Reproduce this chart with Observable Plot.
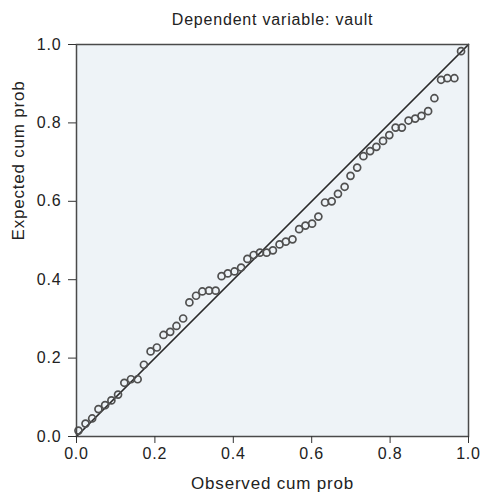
<!DOCTYPE html>
<html><head><meta charset="utf-8">
<script src="https://cdn.jsdelivr.net/npm/d3@7"></script>
<script src="https://cdn.jsdelivr.net/npm/@observablehq/plot@0.6"></script>
<style>body{margin:0;background:#fff;font-family:"Liberation Sans",Arial,sans-serif}</style>
</head><body><div id="chart"></div>
<script>
const title = "Dependent variable: vault";
const xLabel = "Observed cum prob";
const yLabel = "Expected cum prob";
const tickValues = [0, 0.2, 0.4, 0.6, 0.8, 1.0];
const diagonal = [0, 1];
const observed = [0.005, 0.023, 0.040, 0.056, 0.073, 0.089, 0.106, 0.122, 0.139, 0.156,
  0.172, 0.189, 0.205, 0.222, 0.239, 0.255, 0.272, 0.288, 0.305, 0.321,
  0.338, 0.355, 0.370, 0.386, 0.403, 0.420, 0.436, 0.452, 0.468, 0.485,
  0.501, 0.518, 0.534, 0.551, 0.568, 0.584, 0.601, 0.617, 0.634, 0.651,
  0.667, 0.684, 0.699, 0.716, 0.732, 0.749, 0.765, 0.782, 0.798, 0.814,
  0.830, 0.847, 0.864, 0.880, 0.897, 0.913, 0.930, 0.946, 0.964, 0.981];
const expected = [0.015, 0.033, 0.046, 0.070, 0.080, 0.092, 0.107, 0.137, 0.146, 0.146,
  0.183, 0.217, 0.227, 0.259, 0.267, 0.282, 0.301, 0.342, 0.359, 0.370,
  0.372, 0.372, 0.409, 0.416, 0.421, 0.431, 0.453, 0.463, 0.469, 0.469,
  0.475, 0.490, 0.497, 0.503, 0.529, 0.538, 0.543, 0.561, 0.597, 0.600,
  0.619, 0.637, 0.665, 0.686, 0.715, 0.728, 0.739, 0.754, 0.769, 0.788,
  0.788, 0.806, 0.811, 0.818, 0.830, 0.863, 0.910, 0.914, 0.914, 0.983];

const points = observed.map((x, i) => ({x, y: expected[i]}));
const diag = diagonal.map(d => ({x: d, y: d}));
const fmt = d3.format(".1f");

const chart = Plot.plot({
  width: 482, height: 494,
  marginLeft: 76, marginRight: 14, marginTop: 44, marginBottom: 58,
  style: {fontFamily: "'Liberation Sans', Arial, sans-serif", fontSize: "16px", color: "#222", background: "#fff", letterSpacing: "0.8px"},
  x: {domain: [0, 1]},
  y: {domain: [0, 1]},
  marks: [
    Plot.frame({fill: "#eef3f7"}),
    Plot.line(diag, {x: "x", y: "y", stroke: "#2a2a2a", strokeWidth: 1.7}),
    Plot.dot(points, {x: "x", y: "y", r: 3.5, stroke: "#505050", strokeWidth: 1.7, fill: "none"}),
    Plot.frame({stroke: "#4a4a4a", strokeWidth: 1.5}),
    Plot.axisX({ticks: tickValues, tickFormat: fmt, tickSize: 7, tickPadding: 4, label: null, fontSize: 16, stroke: "#333"}),
    Plot.axisY({ticks: tickValues, tickFormat: fmt, tickSize: 8, tickPadding: 7, label: null, fontSize: 16, stroke: "#333"}),
    Plot.text([title], {frameAnchor: "top", lineAnchor: "middle", dy: -25, fontSize: 16, fill: "#222"}),
    Plot.text([xLabel], {frameAnchor: "bottom", lineAnchor: "middle", dy: 47, fontSize: 17, fill: "#222"}),
    Plot.text([yLabel], {frameAnchor: "left", lineAnchor: "middle", dx: -58, rotate: -90, fontSize: 17, fill: "#222"})
  ]
});
document.getElementById("chart").appendChild(chart);
</script>
</body></html>
